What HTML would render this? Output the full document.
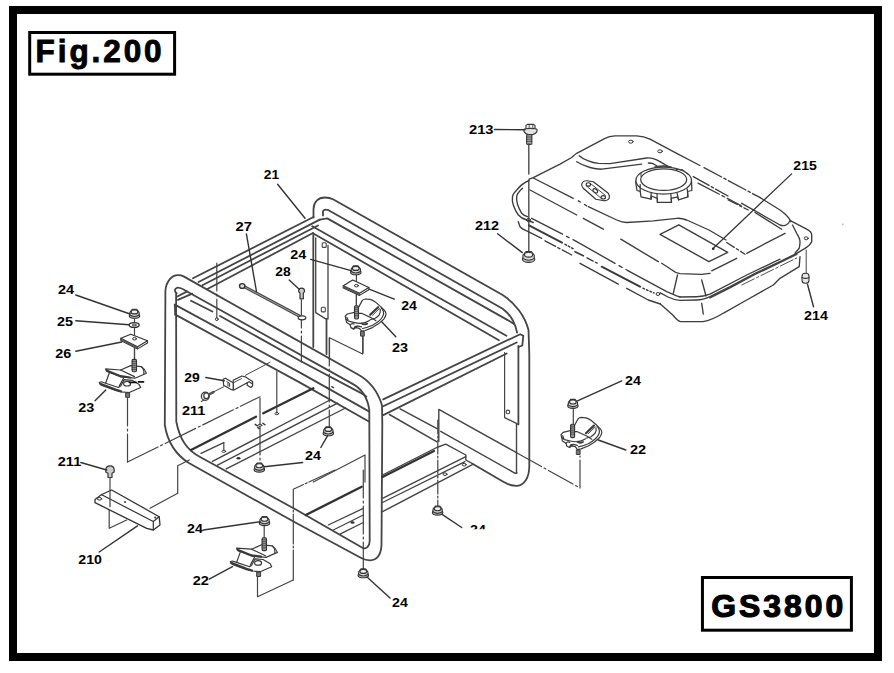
<!DOCTYPE html>
<html><head><meta charset="utf-8"><title>Fig.200 GS3800</title>
<style>
html,body{margin:0;padding:0;background:#fff;}
body{width:894px;height:673px;overflow:hidden;font-family:"Liberation Sans",sans-serif;}
svg{display:block}
text{font-family:"Liberation Sans",sans-serif;font-weight:bold;fill:#000;}
</style></head><body>
<svg width="894" height="673" viewBox="0 0 894 673">
<defs><filter id="soft" x="-2%" y="-2%" width="104%" height="104%"><feGaussianBlur stdDeviation="0.38"/></filter></defs>
<rect x="0" y="0" width="894" height="673" fill="#fff"/>
<g fill="none" stroke-linecap="round" stroke-linejoin="round" filter="url(#soft)">
<path d="M313.5,217.5 L313.5,209 C313.8,202 318,197.5 325,197.5 C329,197.5 331,198.2 333,199.2 L502.7,295 C515,303 525,316 528.5,330 L529.3,354 L529.3,466 C529.3,478 524,485.5 517,485.8 C512,486 508,484.5 503.3,481.7 L473.3,464.2" stroke="#444" stroke-width="1.8" />
<path d="M323,215.5 L323,211.5 C323.3,209.6 325.5,209.2 328.6,210.2 L502.7,308.8 C510,314 515,322 517.1,332.7" stroke="#444" stroke-width="1.8" />
<path d="M319.8,219.6 L327.3,218.4 L507.7,320.1 L514,323.9" stroke="#444" stroke-width="1.8" />
<path d="M312.3,226.3 L506.4,335.8" stroke="#444" stroke-width="1.8" />
<path d="M312.9,233.2 L498.9,340.2" stroke="#444" stroke-width="1.8" />
<path d="M518.4,346 L518.4,424.4" stroke="#444" stroke-width="1.8" />
<path d="M193,278.3 L313.5,217" stroke="#444" stroke-width="1.8" />
<path d="M198.6,282 L319.8,219.6" stroke="#444" stroke-width="1.8" />
<path d="M202.4,285.2 L318,225.5" stroke="#444" stroke-width="1.8" />
<path d="M207.4,289 L313,233" stroke="#444" stroke-width="1.8" />
<path d="M177.3,296.5 L187.3,291.4" stroke="#444" stroke-width="1.8" />
<path d="M177.9,299.8 L192.3,293.6" stroke="#444" stroke-width="1.8" />
<path d="M296.7,523.3 L189.3,463.3 C176,455 167.7,443 164.8,425 L165.4,291 C166,281 172,275.2 178,275.2 C181,275.2 182.5,275.8 183.6,276.4 L358.9,375 C371,382 378,392 382,405.2 L382.3,424 L381.5,545 C381,555 377,560 370,560.3 C366,560.3 364,559.6 361.7,558.3 L296.7,523.3" stroke="#444" stroke-width="1.8" />
<path d="M176.7,293.3 C174,291.5 174.5,288.6 177,287.8 C180,287.2 182.5,288.8 184.8,290.2 L352.6,383.9 C362,389 367.5,397 369.3,410 L369.7,541 C369.5,546.5 366.5,549 363.3,548.3 L296.7,510 L201,457.5 C187,450 180,440 176.3,421.7 L176.1,293.5" stroke="#444" stroke-width="1.8" />
<path d="M191,300.8 L212.4,311.5 M220,316 L300,360.7 L360.2,392.6 L366.4,396.4" stroke="#444" stroke-width="1.8" />
<path d="M174.8,304.6 L300,372.6 L368.9,411.4" stroke="#444" stroke-width="1.8" />
<path d="M175.4,314.6 L300,382.6 L368.9,421.5" stroke="#444" stroke-width="1.8" />
<path d="M174.8,304.6 L175.2,314.6" stroke="#444" stroke-width="1.8" />
<path d="M383.2,399.4 L520.2,334.2 L523.3,335.8 L522.3,345.5 L518.6,347" stroke="#444" stroke-width="1.8" />
<path d="M383.2,406.3 L516.7,342.5" stroke="#444" stroke-width="1.8" />
<path d="M383.2,415.1 L506.7,353.5" stroke="#444" stroke-width="1.8" />
<path d="M504.6,352.5 L504.6,417.6 L518.4,424.4" stroke="#444" stroke-width="1.2" />
<circle cx="507.9" cy="411.9" r="1.8" stroke="#444" stroke-width="1.1"/>
<path d="M313.3,235 L313.3,347" stroke="#444" stroke-width="1.8" />
<path d="M315.7,238 L315.7,312.6 L325.7,318.9 L328,318.9 L328,245.5" stroke="#444" stroke-width="1.3" />
<path d="M326.5,319 L326.5,354" stroke="#444" stroke-width="1.8" />
<rect x="321.3" y="307.3" width="4" height="4.6" rx="1" stroke="#444" stroke-width="1.1"/>
<rect x="322.2" y="242.8" width="4" height="4.6" rx="1" stroke="#444" stroke-width="1.1"/>
<path d="M191,450 L256,416.7 M263.3,413.3 L313.3,388.3" stroke="#333" stroke-width="2.4" />
<path d="M201,453.4 L223.8,442.6" stroke="#444" stroke-width="1.3" />
<path d="M212.5,461.4 L331,399.5" stroke="#444" stroke-width="1.4" />
<path d="M217.5,465.2 L337.5,403.2" stroke="#444" stroke-width="1.4" />
<path d="M226.3,468.9 L345.5,408" stroke="#444" stroke-width="1.4" />
<ellipse cx="238.5" cy="458.3" rx="2" ry="1.2" fill="#333" stroke="none"/>
<path d="M223.8,442.6 L223.8,450.3" stroke="#444" stroke-width="1.2" />
<path d="M305.8,515 L361.7,486.7" stroke="#333" stroke-width="2.4" />
<path d="M328.3,525 L363.3,508.3 M333.3,530 L363.3,515 M340,534.2 L363.3,522.5" stroke="#444" stroke-width="1.3" />
<ellipse cx="352.5" cy="522.5" rx="2" ry="1.2" fill="#333" stroke="none"/>
<path d="M382.5,475 L436.7,447.5 L445.8,444.2 L465.8,455 L465.8,460 L473.3,464.2 L382.5,511.7" stroke="#444" stroke-width="1.4" />
<path d="M382.5,477 L434,451" stroke="#333" stroke-width="2.2" />
<path d="M382.5,498.3 L465.8,456.7 M382.5,502.5 L465,461.7" stroke="#444" stroke-width="1.3" />
<ellipse cx="445" cy="474.2" rx="2" ry="1.3" stroke="#333" stroke-width="1"/>
<ellipse cx="464.2" cy="464.7" rx="2" ry="1.3" stroke="#333" stroke-width="1"/>
<path d="M438.8,441.4 L438.8,409.4 L516.5,452.6" stroke="#444" stroke-width="1.4" />
<path d="M440.7,431.3 L515.2,473.3 L517,473" stroke="#444" stroke-width="1.4" />
<path d="M516.5,424 L516.5,473" stroke="#444" stroke-width="1.4" />
<path d="M400.1,408.8 L437,428.6 M389.4,414.5 L437,441.8" stroke="#444" stroke-width="1.5" />
<path d="M127.5,398 L127.5,462" stroke="#444" stroke-width="1.2" stroke-dasharray="28 3 2 3"/>
<path d="M127.5,462 L260,396.7" stroke="#444" stroke-width="1.2" stroke-dasharray="34 3 2 3"/>
<path d="M260,398 L260,425" stroke="#444" stroke-width="1.2" />
<path d="M260,427 L260,464" stroke="#444" stroke-width="1.2" stroke-dasharray="28 3 2 3"/>
<path d="M276.8,371.7 L276.8,413" stroke="#444" stroke-width="1.2" />
<path d="M216.8,263 L216.8,318" stroke="#444" stroke-width="1.2" stroke-dasharray="28 3 2 3"/>
<path d="M301.4,300 L301.4,362" stroke="#444" stroke-width="1.2" stroke-dasharray="28 3 2 3"/>
<path d="M329.3,338 L329.3,427" stroke="#444" stroke-width="1.2" stroke-dasharray="28 3 2 3"/>
<path d="M363.3,470 L363.3,569" stroke="#444" stroke-width="1.2" stroke-dasharray="28 3 2 3"/>
<path d="M437.8,420 L437.8,507" stroke="#444" stroke-width="1.2" stroke-dasharray="14 2 2 2"/>
<path d="M177.7,493.3 L177.7,465.8 L189.3,460" stroke="#444" stroke-width="1.2" />
<path d="M177.7,493.3 L150,508.3" stroke="#444" stroke-width="1.2" />
<path d="M293.3,580 L293.3,489.2 L335,470" stroke="#444" stroke-width="1.2" stroke-dasharray="30 2 2 2"/>
<path d="M257.5,576.7 L257.5,596.7 L293.3,580" stroke="#444" stroke-width="1.2" />
<path d="M313.3,482 L365,455 L365,482" stroke="#444" stroke-width="1.2" />
<path d="M329.5,360 L329.5,337.7 L362.7,354 L362.7,335.8" stroke="#444" stroke-width="1.2" />
<path d="M516,287 L579.5,438 " stroke="none" stroke-width="0" />
<path d="M517,453 L580,488 L580,456" stroke="#444" stroke-width="1.2" stroke-dasharray="28 3 2 3"/>
<path d="M109.2,506.7 L109.2,528.3 L126.7,520" stroke="#444" stroke-width="1.2" />
<path d="M134.5,318L134.5,360" stroke="#444" stroke-width="1.2" />
<g stroke="#333" stroke-width="1.1" fill="#fff"><ellipse cx="134.5" cy="315.7" rx="5.2" ry="2.6" fill="#c2c2c2"/><path d="M129.9,315.0 L129.9,312.3 L132.3,309.3 L136.7,309.3 L139.1,312.3 L139.1,315.0 Q134.5,318.1 129.9,315.0Z" fill="#d9d9d9"/><ellipse cx="134.5" cy="311.9" rx="3.4" ry="2.0" fill="#f2f2f2"/></g>
<ellipse cx="134.2" cy="325" rx="5" ry="2.4" stroke="#333" stroke-width="1.4" fill="#fff"/><ellipse cx="134.2" cy="325" rx="2" ry="0.9" stroke="#333" stroke-width="0.9"/>
<path d="M120.8,338.3 L130.8,334.2 L147.5,340.8 L137.5,346.7Z" stroke="#333" stroke-width="1.2" fill="#fff"/>
<path d="M120.8,338.3 L120.8,340.5 L137.5,348.9 L147.5,343.0 L147.5,340.8 M137.5,346.7 L137.5,348.9" stroke="#333" stroke-width="1.1"/>
<path d="M120.8,339.40000000000003 L137.5,347.8" stroke="#555" stroke-width="1.6"/>
<ellipse cx="134.5" cy="338.8" rx="2" ry="1.2" stroke="#333" stroke-width="1"/>
<path d="M134.5,348L134.5,360" stroke="#444" stroke-width="1.2" />
<g transform="translate(99,365.3)" stroke="#3a3a3a" stroke-width="1.2" fill="none"><path d="M6.6,3.6 L21.6,4.7 L31.7,0.3 L42.4,1.4 C45,3 46.6,5.5 47.4,7.9 L36,12.9 L21.6,11.5 L8,6.1 Z" fill="#fff"/><path d="M7.6,5.2 L21.6,10.9 L31,12.2" stroke-width="2.2"/><path d="M21.6,4.7 L35.5,11.3 M42.4,1.4 C44.5,3.5 45.3,6 44.8,8.8"/><path d="M10.2,7.9 L6.6,17.9 M24.5,12.9 L20.2,20.8"/><path d="M0.2,17.2 L2.3,16.5 L6.6,17.9 L19.5,22.2 L21.6,20.8 L25.2,14.3 L33.1,15 L40.2,19.3 L41.7,22.2 L30.2,27.2 L21.6,26.5 L16.6,25.1 L2.3,20 Z" fill="#fff"/><path d="M1.2,18.4 L16.6,24.3 L22,26" stroke-width="2.2"/><ellipse cx="28.1" cy="18.4" rx="3.5" ry="2.3" fill="#fff"/><rect x="27" y="27.6" width="3.6" height="4.4" fill="#777" stroke-width="1"/></g>
<rect x="132.10000000000002" y="359.4" width="4.4" height="12.300000000000011" rx="1.2" fill="#999" stroke="#333" stroke-width="1.1"/>
<path d="M132.10000000000002,361.4 L136.5,361.4" stroke="#333" stroke-width="0.7"/>
<path d="M132.10000000000002,363.4 L136.5,363.4" stroke="#333" stroke-width="0.7"/>
<path d="M132.10000000000002,365.4 L136.5,365.4" stroke="#333" stroke-width="0.7"/>
<path d="M132.10000000000002,367.4 L136.5,367.4" stroke="#333" stroke-width="0.7"/>
<path d="M132.10000000000002,369.4 L136.5,369.4" stroke="#333" stroke-width="0.7"/>
<path d="M129.5,382.3 L136,382.3 M138.5,381.8 L143.5,381.8" stroke="#111" stroke-width="1.8"/>
<g transform="translate(230,544.5)" stroke="#3a3a3a" stroke-width="1.2" fill="none"><path d="M6.6,3.6 L21.6,4.7 L31.7,0.3 L42.4,1.4 C45,3 46.6,5.5 47.4,7.9 L36,12.9 L21.6,11.5 L8,6.1 Z" fill="#fff"/><path d="M7.6,5.2 L21.6,10.9 L31,12.2" stroke-width="2.2"/><path d="M21.6,4.7 L35.5,11.3 M42.4,1.4 C44.5,3.5 45.3,6 44.8,8.8"/><path d="M10.2,7.9 L6.6,17.9 M24.5,12.9 L20.2,20.8"/><path d="M0.2,17.2 L2.3,16.5 L6.6,17.9 L19.5,22.2 L21.6,20.8 L25.2,14.3 L33.1,15 L40.2,19.3 L41.7,22.2 L30.2,27.2 L21.6,26.5 L16.6,25.1 L2.3,20 Z" fill="#fff"/><path d="M1.2,18.4 L16.6,24.3 L22,26" stroke-width="2.2"/><ellipse cx="28.1" cy="18.4" rx="3.5" ry="2.3" fill="#fff"/><rect x="27" y="27.6" width="3.6" height="4.4" fill="#777" stroke-width="1"/></g>
<path d="M264.2,525L264.2,538" stroke="#444" stroke-width="1.2" />
<g stroke="#333" stroke-width="1.1" fill="#fff"><ellipse cx="264.5" cy="523.0" rx="5.2" ry="2.6" fill="#c2c2c2"/><path d="M259.90000000000003,522.3 L259.90000000000003,519.5999999999999 L262.3,516.5999999999999 L266.7,516.5999999999999 L269.09999999999997,519.5999999999999 L269.09999999999997,522.3 Q264.5,525.4 259.90000000000003,522.3Z" fill="#d9d9d9"/><ellipse cx="264.5" cy="519.1999999999999" rx="3.4" ry="2.0" fill="#f2f2f2"/></g>
<rect x="262.1" y="537.8" width="4.4" height="12.800000000000068" rx="1.2" fill="#999" stroke="#333" stroke-width="1.1"/>
<path d="M262.1,539.8 L266.5,539.8" stroke="#333" stroke-width="0.7"/>
<path d="M262.1,541.8 L266.5,541.8" stroke="#333" stroke-width="0.7"/>
<path d="M262.1,543.8 L266.5,543.8" stroke="#333" stroke-width="0.7"/>
<path d="M262.1,545.8 L266.5,545.8" stroke="#333" stroke-width="0.7"/>
<path d="M262.1,547.8 L266.5,547.8" stroke="#333" stroke-width="0.7"/>
<g stroke="#333" stroke-width="1.2"><path d="M105.8,470 C105.8,464.5 114.2,464.5 114.2,470 L114.2,472 L112,473.3 L112,477.5 L108,477.5 L108,473.3 L105.8,472Z" fill="#ccc"/></g>
<path d="M95,499.5 L101.7,494.5 L111.7,490 L159.2,516.7 L160,525 L153.3,530 L146.7,528.3 L95,502.7 Z" stroke="#333" stroke-width="1.3" fill="#fff"/>
<path d="M101.7,494.8 L153.3,521.5 L153.3,530 M153.3,521.5 L159.2,516.7" stroke="#333" stroke-width="1.2" />
<ellipse cx="99.5" cy="498.8" rx="2.2" ry="1.3" stroke="#333" stroke-width="1"/>
<circle cx="125" cy="502" r="1" fill="#333"/><circle cx="155.3" cy="517.5" r="1.1" fill="#333"/>
<path d="M110,477.5L110,506.7" stroke="#444" stroke-width="1.2" />
<g stroke="#333" stroke-width="1.2"><path d="M298.6,291.5 C298.6,287 304.6,287 304.6,291.5 L303.3,293.2 L303.3,298.8 L300,298.8 L300,293.2Z" fill="#ccc"/></g>
<path d="M243.7,286.4 L300,316.4" stroke="#484848" stroke-width="3.0" />
<path d="M245,287.1 L299,315.9" stroke="#c8c8c8" stroke-width="0.7" />
<ellipse cx="242.2" cy="286" rx="2.7" ry="2.4" stroke="#333" stroke-width="1.4" fill="#ddd"/>
<ellipse cx="302" cy="317.8" rx="3.8" ry="2" stroke="#333" stroke-width="1.2" fill="#fff"/>
<circle cx="216.8" cy="319.2" r="1.4" stroke="#333" stroke-width="1"/>
<g stroke="#3a3a3a" stroke-width="1.2" fill="#fff"><path d="M233.2,380.3 L241.8,376 L246.1,377.1 L247.5,378.2 L252.6,381.4 L252.6,386 L250.8,387.5 L247.2,385.3 L247.2,382.8 L233.9,390 L233.2,390 Z"/><path d="M247.2,382.8 L249,381.7 L252.6,383.9" fill="none"/><path d="M223.2,379.2 L225.3,378.2 L233.2,382.8 L233.2,390 L231.1,389.6 L223.6,385.3 Z"/><path d="M226.8,381.6 L229.6,383.2 L229.6,386.4 M228,383.4 L228,386.2" fill="none" stroke-width="1"/><path d="M233.2,382.8 L241.5,378.6" fill="none" stroke-width="0.9"/></g>
<path d="M245.4,375.3 L270,362.3" stroke="#444" stroke-width="1.0" />
<g stroke="#3a3a3a" stroke-width="1.2"><ellipse cx="205.3" cy="396.3" rx="4" ry="4.1" fill="#e4e4e4"/><ellipse cx="206.3" cy="395.8" rx="2.5" ry="2.9" fill="#fff"/><path d="M209.6,394.2 L213.4,392.1" stroke-width="2.6" stroke="#555"/></g>
<path d="M213.2,392.1 L223.6,386.8" stroke="#444" stroke-width="1.0" />
<path d="M203.9,400 L201.4,401.4" stroke="#444" stroke-width="1.1" />
<ellipse cx="260" cy="425.3" rx="1.9" ry="1.1" stroke="#333" stroke-width="0.9"/>
<ellipse cx="276.8" cy="413.6" rx="1.9" ry="1.1" stroke="#333" stroke-width="0.9"/>
<ellipse cx="223.8" cy="451.3" rx="1.9" ry="1.1" stroke="#333" stroke-width="0.9"/>
<path d="M255.2,424.3 L257.4,425.8 M262.8,423.2 L265,424.8 M257.8,427.6 L259.3,428.6" stroke="#333" stroke-width="1.4" />
<path d="M326.5,387.5 L328.5,388.8 M331.8,386.6 L333.6,387.8" stroke="#333" stroke-width="1.3" />
<path d="M356.4,274L356.4,306" stroke="#444" stroke-width="1.2" />
<g stroke="#333" stroke-width="1.1" fill="#fff"><ellipse cx="355.8" cy="272.2" rx="5.2" ry="2.6" fill="#c2c2c2"/><path d="M351.20000000000005,271.5 L351.20000000000005,268.8 L353.6,265.8 L358.0,265.8 L360.4,268.8 L360.4,271.5 Q355.8,274.6 351.20000000000005,271.5Z" fill="#d9d9d9"/><ellipse cx="355.8" cy="268.4" rx="3.4" ry="2.0" fill="#f2f2f2"/></g>
<path d="M343.3,285.7 L352.7,280 L368.9,287.5 L359.5,293.2Z" stroke="#333" stroke-width="1.2" fill="#fff"/>
<path d="M343.3,285.7 L343.3,287.9 L359.5,295.4 L368.9,289.7 L368.9,287.5 M359.5,293.2 L359.5,295.4" stroke="#333" stroke-width="1.1"/>
<path d="M343.3,286.8 L359.5,294.3" stroke="#555" stroke-width="1.6"/>
<ellipse cx="356.4" cy="285.7" rx="2" ry="1.2" stroke="#333" stroke-width="1"/>
<path d="M356.4,295L356.4,306" stroke="#444" stroke-width="1.2" />
<g transform="translate(345,298.3)" stroke="#3a3a3a" stroke-width="1.2" fill="none"><path d="M13.8,8.6 L17.3,2.1 C18.5,1 19.5,0.7 20.2,0.7 L25.2,1.1 C27,1.6 28.8,2.6 30.2,3.6 L36,8.6 L39.5,12.2 C40.6,13.5 41,14.6 41,15.7 C40.8,17.6 40,19.3 38.8,20.8 C37,22.7 35,24.3 33.1,25.8 L27.4,29.3 L20.2,32.2 L16.6,32.9 L14.5,30 L10.9,29.3 L8.7,30.8 L5.9,29.3 L5.2,26.5 L1.6,24.3 L0.9,20.8 L0.2,17.9 L2.3,15.7 L9.5,14 Z" fill="#fff"/><path d="M13.8,15 L16.6,15 L25.9,19.3 L31,22.5"/><path d="M0.9,20.8 C2.5,22.2 3,22.6 3.7,22.9 L9.5,24.3 C12,24.9 14.5,25.1 16.6,25 C19.5,24.6 22,23.6 24.5,22.2"/><path d="M25.2,16.5 L33.1,8.9" stroke-width="2.2"/><path d="M27.5,17 L34.5,10.2" stroke-width="0.9"/><path d="M35.2,11.1 C35.6,13 35.1,15 34.2,16.5 C33,18 31.5,19.2 30.2,20 L25.2,21.5"/><path d="M36.2,9.5 C38.5,12 39,14.5 38.3,16.8 C37,20.5 33,24 27.5,27 C24,28.6 20.5,29.8 17.5,30.2" /><path d="M1.8,19 L3,21.5 M5.2,26.5 C6.2,25.2 7.8,25 9,25.8 M8.7,30.8 C9.2,28.8 10.5,27.6 12.3,27.8 M10.9,29.3 L12.5,27.6 L16.5,28.6"/><path d="M16.6,25 C18,26.3 20,26.5 22.2,25.3" stroke-width="1.8"/><rect x="15.9" y="33.2" width="3.4" height="4.6" fill="#777" stroke-width="1"/></g>
<rect x="354.5" y="305.7" width="4" height="13.300000000000011" rx="1.2" fill="#999" stroke="#333" stroke-width="1.1"/>
<path d="M354.5,307.7 L358.5,307.7" stroke="#333" stroke-width="0.7"/>
<path d="M354.5,309.7 L358.5,309.7" stroke="#333" stroke-width="0.7"/>
<path d="M354.5,311.7 L358.5,311.7" stroke="#333" stroke-width="0.7"/>
<path d="M354.5,313.7 L358.5,313.7" stroke="#333" stroke-width="0.7"/>
<path d="M354.5,315.7 L358.5,315.7" stroke="#333" stroke-width="0.7"/>
<path d="M363,336.5L363,353" stroke="#444" stroke-width="1.2" />
<path d="M573.3,408L573.3,425" stroke="#444" stroke-width="1.2" />
<g stroke="#333" stroke-width="1.1" fill="#fff"><ellipse cx="572.9" cy="405.8" rx="5.2" ry="2.6" fill="#c2c2c2"/><path d="M568.3,405.1 L568.3,402.40000000000003 L570.6999999999999,399.40000000000003 L575.1,399.40000000000003 L577.5,402.40000000000003 L577.5,405.1 Q572.9,408.20000000000005 568.3,405.1Z" fill="#d9d9d9"/><ellipse cx="572.9" cy="402.0" rx="3.4" ry="2.0" fill="#f2f2f2"/></g>
<g transform="translate(560.8,416.7)" stroke="#3a3a3a" stroke-width="1.2" fill="none"><path d="M13.8,8.6 L17.3,2.1 C18.5,1 19.5,0.7 20.2,0.7 L25.2,1.1 C27,1.6 28.8,2.6 30.2,3.6 L36,8.6 L39.5,12.2 C40.6,13.5 41,14.6 41,15.7 C40.8,17.6 40,19.3 38.8,20.8 C37,22.7 35,24.3 33.1,25.8 L27.4,29.3 L20.2,32.2 L16.6,32.9 L14.5,30 L10.9,29.3 L8.7,30.8 L5.9,29.3 L5.2,26.5 L1.6,24.3 L0.9,20.8 L0.2,17.9 L2.3,15.7 L9.5,14 Z" fill="#fff"/><path d="M13.8,15 L16.6,15 L25.9,19.3 L31,22.5"/><path d="M0.9,20.8 C2.5,22.2 3,22.6 3.7,22.9 L9.5,24.3 C12,24.9 14.5,25.1 16.6,25 C19.5,24.6 22,23.6 24.5,22.2"/><path d="M25.2,16.5 L33.1,8.9" stroke-width="2.2"/><path d="M27.5,17 L34.5,10.2" stroke-width="0.9"/><path d="M35.2,11.1 C35.6,13 35.1,15 34.2,16.5 C33,18 31.5,19.2 30.2,20 L25.2,21.5"/><path d="M36.2,9.5 C38.5,12 39,14.5 38.3,16.8 C37,20.5 33,24 27.5,27 C24,28.6 20.5,29.8 17.5,30.2" /><path d="M1.8,19 L3,21.5 M5.2,26.5 C6.2,25.2 7.8,25 9,25.8 M8.7,30.8 C9.2,28.8 10.5,27.6 12.3,27.8 M10.9,29.3 L12.5,27.6 L16.5,28.6"/><path d="M16.6,25 C18,26.3 20,26.5 22.2,25.3" stroke-width="1.8"/><rect x="15.9" y="33.2" width="3.4" height="4.6" fill="#777" stroke-width="1"/></g>
<rect x="570.6" y="424.2" width="4" height="13.400000000000034" rx="1.2" fill="#999" stroke="#333" stroke-width="1.1"/>
<path d="M570.6,426.2 L574.6,426.2" stroke="#333" stroke-width="0.7"/>
<path d="M570.6,428.2 L574.6,428.2" stroke="#333" stroke-width="0.7"/>
<path d="M570.6,430.2 L574.6,430.2" stroke="#333" stroke-width="0.7"/>
<path d="M570.6,432.2 L574.6,432.2" stroke="#333" stroke-width="0.7"/>
<path d="M570.6,434.2 L574.6,434.2" stroke="#333" stroke-width="0.7"/>
<g stroke="#333" stroke-width="1.1" fill="#fff"><ellipse cx="259.3" cy="469.5" rx="5.2" ry="2.6" fill="#c2c2c2"/><path d="M254.70000000000002,468.8 L254.70000000000002,466.1 L257.1,463.1 L261.5,463.1 L263.9,466.1 L263.9,468.8 Q259.3,471.90000000000003 254.70000000000002,468.8Z" fill="#d9d9d9"/><ellipse cx="259.3" cy="465.7" rx="3.4" ry="2.0" fill="#f2f2f2"/></g>
<g stroke="#333" stroke-width="1.1" fill="#fff"><ellipse cx="328.3" cy="433.2" rx="5.2" ry="2.6" fill="#c2c2c2"/><path d="M323.70000000000005,432.5 L323.70000000000005,429.8 L326.1,426.8 L330.5,426.8 L332.9,429.8 L332.9,432.5 Q328.3,435.6 323.70000000000005,432.5Z" fill="#d9d9d9"/><ellipse cx="328.3" cy="429.4" rx="3.4" ry="2.0" fill="#f2f2f2"/></g>
<g stroke="#333" stroke-width="1.1" fill="#fff"><ellipse cx="363.3" cy="575.2" rx="5.2" ry="2.6" fill="#c2c2c2"/><path d="M358.70000000000005,574.5 L358.70000000000005,571.8 L361.1,568.8 L365.5,568.8 L367.9,571.8 L367.9,574.5 Q363.3,577.6 358.70000000000005,574.5Z" fill="#d9d9d9"/><ellipse cx="363.3" cy="571.4" rx="3.4" ry="2.0" fill="#f2f2f2"/></g>
<g stroke="#333" stroke-width="1.1" fill="#fff"><ellipse cx="437.6" cy="512.5" rx="5.2" ry="2.6" fill="#c2c2c2"/><path d="M433.00000000000006,511.8 L433.00000000000006,509.1 L435.40000000000003,506.1 L439.8,506.1 L442.2,509.1 L442.2,511.8 Q437.6,514.9 433.00000000000006,511.8Z" fill="#d9d9d9"/><ellipse cx="437.6" cy="508.7" rx="3.4" ry="2.0" fill="#f2f2f2"/></g>
<g stroke="#3a3a3a" stroke-width="1.15" fill="#f4f4f4"><path d="M526,128.6 L526,125.4 L527.4,124.4 L533.6,124.4 L535,125.4 L535,128.6"/><path d="M524,129.6 C524,127.9 537,127.9 537,129.6 L537,131.6 C536,133.4 534.2,134.2 532.4,134.6 L528.3,134.6 C526.5,134.2 525,133.4 524,131.6 Z" fill="#e2e2e2"/><path d="M529.2,124.6 L529.2,128.3 M532.8,124.6 L532.8,128.3" stroke-width="0.8"/><rect x="526.6" y="134.6" width="5.2" height="9.8" rx="0.8" fill="#aaa"/><path d="M526.6,137 L531.8,137 M526.6,139.2 L531.8,139.2 M526.6,141.4 L531.8,141.4" stroke-width="0.8"/></g>
<path d="M528.8,144 L528.8,174 M528.8,180 L528.8,252" stroke="#444" stroke-width="1.35" />
<g stroke="#333" stroke-width="1.1" fill="#fff"><ellipse cx="528.6" cy="259.24" rx="6.24" ry="3.12" fill="#c2c2c2"/><path d="M522.96,258.40000000000003 L522.96,255.16000000000003 L525.96,251.56000000000003 L531.24,251.56000000000003 L534.24,255.16000000000003 L534.24,258.40000000000003 Q528.6,262.12 522.96,258.40000000000003Z" fill="#d9d9d9"/><ellipse cx="528.6" cy="254.68000000000004" rx="4.08" ry="2.4" fill="#f2f2f2"/></g>
<path d="M529.2,179.2 L533.3,177.6 L560,164.2 L571.7,157.5 C574,155.5 575,154.5 576.7,153.3 L605,138.3 C608,136.6 611,135.9 615,135.8 L636.7,135.8 C642,136 646,137.2 650,139.2 L676.7,153.3 L700,165.5" stroke="#3d3d3d" stroke-width="1.35" />
<path d="M704,167.6 L760.3,197.7" stroke="#3d3d3d" stroke-width="1.35" stroke-dasharray="20 2.5 2.5 2.5"/>
<path d="M760.3,197.7 L780,210 C785,213.5 789,217 790.8,221.7" stroke="#3d3d3d" stroke-width="1.35" />
<path d="M741.7,203.3 L780,225 C784,226.5 788,225 790,220.8" stroke="#3d3d3d" stroke-width="1.35" />
<path d="M755,212.5 L781.7,229.2" stroke="#3d3d3d" stroke-width="1.35" />
<path d="M790.8,220.8 L806.7,229.2 C810,231 811.7,233 811.7,235 L811.7,241.7 C810.5,244.5 808,246.5 805,248.3 L796.7,253.3 L780,261.7 L755,273.3 L730,286.7 L710,296.7 C705,299 701,300 696.7,300 L680,300.3 C676,300 672,299 668,297 L660.4,292.8" stroke="#3d3d3d" stroke-width="1.35" />
<path d="M796.7,254.3 L755,274.4 L730,287.8 L710,297.8" stroke="#444" stroke-width="1.6" />
<path d="M792.5,225 L796.7,233.3 C799,237 800,239.5 800,241.7 C800,245 799.5,247 799.2,248.3 L795,253.3" stroke="#3d3d3d" stroke-width="1.35" />
<path d="M780,259.2 L746.7,275 L710,294.2 C705,296 701,296.7 696.7,296.7 L680,297" stroke="#3d3d3d" stroke-width="1.35" />
<ellipse cx="806.2" cy="238.3" rx="2" ry="1.5" stroke="#333" stroke-width="1"/>
<path d="M529,180.5 C524,182.5 520,186 516.7,190 C514,193 512.5,195 512.5,196.7 C512,200 512.5,202.5 513.3,205 C514.5,208.5 516,212 518.3,215 C521,218 523.5,219 526.7,220 L533.3,222.5" stroke="#3d3d3d" stroke-width="1.35" />
<path d="M522.5,188.3 C519,191.5 517,194 516.7,196.7 C516.3,199.5 516.8,202 517.5,204.2 C518.5,207.5 520,210.5 521.7,213.3 C523.5,215.3 525.5,216.2 527.5,216.7" stroke="#3d3d3d" stroke-width="1.35" />
<ellipse cx="528.4" cy="220" rx="2.2" ry="1.4" stroke="#333" stroke-width="1"/>
<path d="M529,225.3 L562,242.6" stroke="#3a3a3a" stroke-width="2.0" />
<path d="M565,244.4 L573,248.6" stroke="#3a3a3a" stroke-width="1.6" stroke-dasharray="1.6 2.2"/>
<path d="M575,251.7 L583.3,255.8" stroke="#3a3a3a" stroke-width="1.6" />
<path d="M587,257.8 L599,264.2" stroke="#3d3d3d" stroke-width="1.35" stroke-dasharray="7 2.5 2 2.5"/>
<path d="M601.7,266.7 L640,286.7" stroke="#3a3a3a" stroke-width="2.0" />
<path d="M643,288.3 L654,293" stroke="#3a3a3a" stroke-width="1.5" stroke-dasharray="1.6 2.2"/>
<ellipse cx="658" cy="294" rx="1.9" ry="1.5" stroke="#333" stroke-width="1"/>
<path d="M531.7,218.3 L562.5,234.2 M566.5,236.3 L569,237.6 M573,239.7 L576.7,241.7 L615,263.3 M619,265.6 L622,267.3 M626,269.5 L628.3,270.8 L666.7,291.7 L676.7,295.8 L680,297" stroke="#3d3d3d" stroke-width="1.35" />
<path d="M518.3,221.7 L520,226.7 C521.5,229 524,230 526.7,230.8 L541.7,238.3" stroke="#3d3d3d" stroke-width="1.35" />
<path d="M545,240.8 L571.7,255" stroke="#3d3d3d" stroke-width="1.35" stroke-dasharray="12 2.5 2.5 2.5"/>
<path d="M580,263.3 L618.3,284.2 M626.7,288.3 L648.3,300 L660.4,304" stroke="#3d3d3d" stroke-width="1.35" />
<path d="M660.4,304 L673,315.3 C676,319 678,321.3 680.5,321.6 L703,321.6 C711,320.5 718,316.5 724,312.8 L746.7,300 L773.3,285 L780,278.3 L799.2,266.7 L800,256.7" stroke="#3d3d3d" stroke-width="1.35" />
<path d="M741.7,285 L796.7,258" stroke="#3d3d3d" stroke-width="0.9" stroke-dasharray="14 2.5 2.5 2.5"/>
<path d="M533.3,178 L573.3,198.3 M578.3,200.8 L580.5,202 M584.5,204.5 L586.7,205.8 M588.3,206.7 L616.7,220 C620,221.5 623,222.5 626.7,222.5 L653.3,220.8 L676.7,218.3 C680,218 683,218.5 686.7,220 L709,230 L726,240" stroke="#3d3d3d" stroke-width="1.35" />
<path d="M726.7,242.5 L745,254.2" stroke="#3d3d3d" stroke-width="1.35" stroke-dasharray="9 2.5 2.5 2.5"/>
<path d="M530,190 L576.7,215 M583.3,218.3 L603.3,229.2 M620.8,239.2 L658.3,261.7 M661.7,263.3 L672,270 C674,271.8 676,273 680,273.6 L701.7,274.4 L710,273.3 M711.7,270.8 L736.7,258.3 M746.7,253.3 L785,233.3" stroke="#3d3d3d" stroke-width="1.35" />
<path d="M677.5,275 L673.3,293.3 M701.7,280 L706,296 M701.7,303.3 L703.3,314" stroke="#3d3d3d" stroke-width="1.35" />
<path d="M579.2,155.8 C582,158.5 585,159.8 588.3,160.8 C592,162.3 595,163 598.3,163.3 L610,163.7 L646.7,158 C649,157.8 651,158 653.3,158.7 C656,159.5 658,160.5 660,161.7 L668.3,166.7" stroke="#3d3d3d" stroke-width="1.35" />
<path d="M576.7,161.7 C581,164.5 585,166 590,167.5 C594,168.7 598,169.2 601.7,169.2 L641.7,164.2 M648.3,163 C650,163 652,163.2 653.3,163.7 L656.7,165.8" stroke="#3d3d3d" stroke-width="1.35" />
<path d="M693.3,176.7 L728,196" stroke="#3d3d3d" stroke-width="1.35" stroke-dasharray="18 2.5 2.5 2.5"/>
<path d="M728.3,200 L748.3,210" stroke="#3d3d3d" stroke-width="1.35" stroke-dasharray="10 2.5 2.5 2.5"/>
<path d="M698,183.2 L741,205.5" stroke="#3d3d3d" stroke-width="1.35" stroke-dasharray="24 3 3 3"/>
<path d="M660,234.3 L678.8,224.8 L727.7,252.4 L708.9,261.6 Z" stroke="#3d3d3d" stroke-width="1.35" />
<path d="M791.6,173.9L713.3,248.3" stroke="#333" stroke-width="1.3" />
<circle cx="713.2" cy="248.7" r="1.3" fill="#222"/>
<ellipse cx="630.8" cy="141.7" rx="2.3" ry="1.5" stroke="#333" stroke-width="1"/>
<ellipse cx="660" cy="151.3" rx="2.3" ry="1.5" stroke="#333" stroke-width="1"/>
<g stroke="#333" stroke-width="1.15" fill="#fff"><path d="M581.7,184.2 C582.5,181.8 585,180.6 586.7,180.8 L593.3,181.7 L608.3,193.3 C609.5,195 609.6,197 609.2,198.3 C608,200.2 606,200.8 604.2,200.8 L595.8,199.2 L583.3,188.3 C582,187 581.5,185.5 581.7,184.2Z"/><ellipse cx="588.3" cy="184.4" rx="2.2" ry="1.7"/><ellipse cx="603.3" cy="197.3" rx="2.2" ry="1.7"/><ellipse cx="595.3" cy="190.8" rx="2.6" ry="1.7" transform="rotate(38 595.3 190.8)"/><path d="M590.5,183.6 L605.3,195.3 M586.5,186 L601.2,198.3" stroke-width="0.9"/></g>
<g stroke="#3a3a3a" stroke-width="1.25" fill="#fff"><path d="M635.9,180.5 L635.9,184 L637,190.5 L640.2,191.3 L641,196.8 L651.1,199.2 L651.1,196 L657.4,198.3 L657.4,202.3 L671.5,202.3 L671.2,198.3 L677.6,196.8 L678.6,199.9 L687.9,196.8 L687.6,191.5 L691.9,190.5 L691.5,180.5 Z"/><ellipse cx="663.7" cy="180.5" rx="27.8" ry="13.5"/><ellipse cx="663.7" cy="179.6" rx="23" ry="10.8"/><path d="M640.2,184.5 L640.2,191.3 M651.1,192.3 L651.1,199.2 M657,193.7 L657.4,202.3 M670.8,193.7 L671.5,202.3 M677,192.9 L678.6,199.9 M687.2,188.8 L687.9,196.8" fill="none"/><path d="M641,176.5 L641,173 M676.2,169.4 L683.2,169.8 L687.2,174.1" fill="none" stroke-width="1"/></g>
<path d="M655,167.2 C660,166 666,166 671,167" stroke="#444" stroke-width="1.7" />
<circle cx="842.8" cy="224.3" r="0.9" fill="#bdbdbd" stroke="none"/>
<path d="M806.2,250L806.2,273.5" stroke="#444" stroke-width="1.0" />
<g stroke="#333" stroke-width="1.1"><rect x="802" y="273.3" width="7" height="10" rx="3" fill="#e6e6e6"/><path d="M802,277.5 Q805.5,279.3 809,277.5"/></g>
<path d="M277.6,184.2L305,218.3" stroke="#333" stroke-width="1.4" />
<path d="M246.4,233.9L256.5,291.5" stroke="#333" stroke-width="1.4" />
<path d="M289.2,280L299.2,289.2" stroke="#333" stroke-width="1.4" />
<path d="M310.7,259.4L351,270.6" stroke="#333" stroke-width="1.4" />
<path d="M369.2,289.2L394.2,299.2" stroke="#333" stroke-width="1.4" />
<path d="M381.7,321.7L395.8,336.7" stroke="#333" stroke-width="1.4" />
<path d="M75.8,295L130,314" stroke="#333" stroke-width="1.4" />
<path d="M75.8,320.8L129,324.7" stroke="#333" stroke-width="1.4" />
<path d="M75.8,351.2L121.7,342" stroke="#333" stroke-width="1.4" />
<path d="M95,400.8L105.8,390" stroke="#333" stroke-width="1.4" />
<path d="M205.8,377.5L224.2,380.8" stroke="#333" stroke-width="1.4" />
<path d="M80.8,462.5L106.7,470" stroke="#333" stroke-width="1.4" />
<path d="M99.2,552L137.5,525.8" stroke="#333" stroke-width="1.4" />
<path d="M203.3,530L260,521.7" stroke="#333" stroke-width="1.4" />
<path d="M209.2,579.2L232.5,566.7" stroke="#333" stroke-width="1.4" />
<path d="M264.3,466.7L302.7,462.5" stroke="#333" stroke-width="1.4" />
<path d="M327.5,435.8L320.8,447.5" stroke="#333" stroke-width="1.4" />
<path d="M367,577L390,598" stroke="#333" stroke-width="1.4" />
<path d="M441.7,514.2L461.7,527.5" stroke="#333" stroke-width="1.4" />
<path d="M621.7,380.8L577.5,400.8" stroke="#333" stroke-width="1.4" />
<path d="M598.3,440L625.8,450" stroke="#333" stroke-width="1.4" />
<path d="M494.5,129.5L525,129.8" stroke="#333" stroke-width="1.4" />
<path d="M497.6,233.8L522.3,252.6" stroke="#333" stroke-width="1.4" />
<path d="M807.5,284.2L813.5,306.7" stroke="#333" stroke-width="1.4" />
</g>
<g>
<text  transform="translate(263.83,179.1) scale(1.0452,1)" font-size="13.2">21</text>
<text  transform="translate(235.50,230.6) scale(1.1199,1)" font-size="13.2">27</text>
<text  transform="translate(290.21,258.7) scale(1.0873,1)" font-size="13.2">24</text>
<text  transform="translate(275.33,275.9) scale(1.0482,1)" font-size="13.2">28</text>
<text  transform="translate(58.01,293.8) scale(1.1014,1)" font-size="13.2">24</text>
<text  transform="translate(57.01,325.8) scale(1.0884,1)" font-size="13.2">25</text>
<text  transform="translate(55.31,357.8) scale(1.0895,1)" font-size="13.2">26</text>
<text  transform="translate(78.21,411.7) scale(1.0895,1)" font-size="13.2">23</text>
<text  transform="translate(184.23,381.7) scale(1.0542,1)" font-size="13.2">29</text>
<text  transform="translate(182.01,415) scale(1.0983,1)" font-size="13.2">211</text>
<text  transform="translate(57.81,465.8) scale(1.0983,1)" font-size="13.2">211</text>
<text  transform="translate(78.32,563.9) scale(1.0741,1)" font-size="13.2">210</text>
<text  transform="translate(187.02,533.3) scale(1.0732,1)" font-size="13.2">24</text>
<text  transform="translate(192.81,585.3) scale(1.0937,1)" font-size="13.2">22</text>
<text  transform="translate(305.02,460) scale(1.0802,1)" font-size="13.2">24</text>
<text  transform="translate(392.02,607) scale(1.0732,1)" font-size="13.2">24</text>
<text  transform="translate(625.02,385) scale(1.0802,1)" font-size="13.2">24</text>
<text  transform="translate(630.01,453.7) scale(1.0937,1)" font-size="13.2">22</text>
<text  transform="translate(401.22,309.7) scale(1.0732,1)" font-size="13.2">24</text>
<text  transform="translate(392.01,351.7) scale(1.0895,1)" font-size="13.2">23</text>
<text  transform="translate(469.00,134) scale(1.1134,1)" font-size="13.2">213</text>
<text  transform="translate(475.01,230) scale(1.0924,1)" font-size="13.2">212</text>
<text  transform="translate(793.32,169.9) scale(1.0654,1)" font-size="13.2">215</text>
<text  transform="translate(804.12,319.8) scale(1.0789,1)" font-size="13.2">214</text>
<svg x="466" y="519" width="26" height="10.3" overflow="hidden"><text  transform="translate(4.12,14.7) scale(1.0732,1)" font-size="13.2">24</text></svg>
</g>
<rect x="13" y="10" width="865" height="647" fill="none" stroke="#000" stroke-width="8"/>
<rect x="29.7" y="32.5" width="144.9" height="41.7" fill="#fff" stroke="#000" stroke-width="3"/>
<text transform="translate(35.57,61.55) scale(1.0011,1)" font-size="31.5" letter-spacing="2.9" stroke="#000" stroke-width="0.9" stroke-linejoin="miter" paint-order="stroke">Fig.200</text>
<rect x="702.45" y="577.5" width="148.95" height="52.7" fill="#fff" stroke="#000" stroke-width="3"/>
<text transform="translate(711.19,616.8) scale(1.0115,1)" font-size="31.5" letter-spacing="3.0" stroke="#000" stroke-width="1.2" stroke-linejoin="miter" paint-order="stroke">GS3800</text>
</svg>
</body></html>
